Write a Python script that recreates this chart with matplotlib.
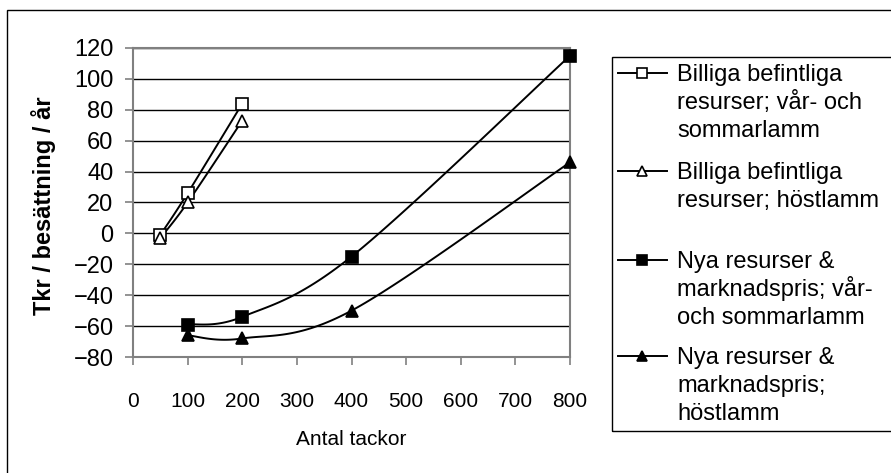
import numpy as np
import matplotlib.pyplot as plt
from matplotlib.patches import Rectangle
from matplotlib.lines import Line2D

plt.rcParams['font.family'] = ['Liberation Sans', 'DejaVu Sans']

# data
x_billig = [50, 100, 200]
y_billig_var = [-1, 26, 84]
y_billig_host = [-3, 20, 73]

x_nya = [100, 200, 400, 800]
y_nya_var = [-59, -54, -15, 115]
y_nya_host = [-66, -68, -50, 46]

labels = [['Billiga befintliga', 'resurser; vår- och', 'sommarlamm'],
          ['Billiga befintliga', 'resurser; höstlamm'],
          ['Nya resurser &', 'marknadspris; vår-', 'och sommarlamm'],
          ['Nya resurser &', 'marknadspris;', 'höstlamm']]

xticks = [0, 100, 200, 300, 400, 500, 600, 700, 800]
yticks = list(range(-80, 121, 20))

W, H = 891, 473
fig = plt.figure(figsize=(W / 100, H / 100), dpi=100)


def fx(px):
    return px / W


def fy(py):
    return 1 - py / H


ax = fig.add_axes([fx(133), fy(357), (570 - 133) / W, (357 - 48) / H])
ax.set_xlim(0, 800)
ax.set_ylim(-80, 120)

# pixel scale for an Excel-like smoothed line
sx = (570 - 133) / 800.0
sy = (357 - 48) / 200.0


def smooth(xs, ys, n=40):
    p = np.column_stack([np.array(xs) * sx, np.array(ys) * sy])
    pts = [p[0]]
    for i in range(len(p) - 1):
        p0 = p[i - 1] if i > 0 else p[i]
        p1, p2 = p[i], p[i + 1]
        p3 = p[i + 2] if i + 2 < len(p) else p[i + 1]
        c1 = p1 + (p2 - p0) / 6
        c2 = p2 - (p3 - p1) / 6
        t = np.linspace(0, 1, n)[1:, None]
        seg = (1 - t) ** 3 * p1 + 3 * (1 - t) ** 2 * t * c1 + 3 * (1 - t) * t ** 2 * c2 + t ** 3 * p2
        pts.extend(seg)
    pts = np.array(pts)
    return pts[:, 0] / sx, pts[:, 1] / sy


series = [
    (x_billig, y_billig_var, 's', 'white'),
    (x_billig, y_billig_host, '^', 'white'),
    (x_nya, y_nya_var, 's', 'black'),
    (x_nya, y_nya_host, '^', 'black'),
]
for xs, ys, m, fc in series:
    cx, cy = smooth(xs, ys)
    ax.plot(cx, cy, color='black', lw=1.4, zorder=3)
    ax.plot(xs, ys, ls='none', marker=m, ms=9, mfc=fc, mec='black', mew=1.2, zorder=4, clip_on=False)

for y in yticks:
    ax.axhline(y, color='black', lw=1, zorder=1)

for s in ['left', 'right', 'top', 'bottom']:
    ax.spines[s].set_color('#808080')
    ax.spines[s].set_linewidth(1.5)
ax.set_xticks(xticks)
ax.set_yticks(yticks)
ax.tick_params(axis='both', direction='out', length=6, color='#808080', width=1.2)
ax.tick_params(axis='y', labelsize=17, pad=8)
ax.tick_params(axis='x', labelsize=15, pad=19)

ax.set_ylabel('Tkr / besättning / år', fontsize=17, fontweight='bold')
ax.yaxis.set_label_coords((56 - 133) / 437, 0.49)
ax.set_xlabel('Antal tackor', fontsize=15)
ax.xaxis.set_label_coords(0.5, (357 - 430) / 309)

# legend drawn by hand so the handles sit on the first text line
fig.patches.append(Rectangle((fx(612), fy(431)), fx(400), (431 - 57) / H, transform=fig.transFigure,
                             fill=False, edgecolor='black', lw=1.0, clip_on=False))
baselines = [81, 179, 268, 364]
for (xs, ys, m, fc), lines, b in zip(series, labels, baselines):
    hy = fy(b - 8)
    fig.add_artist(Line2D([fx(618), fx(667)], [hy, hy], color='black', lw=1.4))
    fig.add_artist(Line2D([fx(642)], [hy], ls='none', marker=m, ms=7.5 if m == 's' else 7,
                          mfc=fc, mec='black', mew=1.2))
    for j, line in enumerate(lines):
        fig.text(fx(677), fy(b + j * 28), line, fontsize=17, va='baseline', ha='left')

fig.patches.append(Rectangle((fx(7), -0.1), 1.2, fy(10) + 0.1, transform=fig.transFigure,
                             fill=False, edgecolor='black', lw=1.0))

fig.savefig('out.png', dpi=100)
